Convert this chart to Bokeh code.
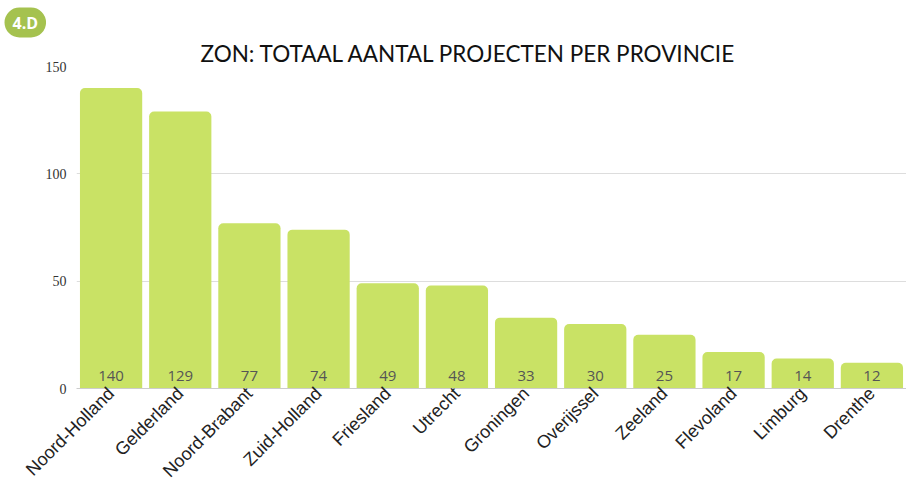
from bokeh.plotting import figure
from bokeh.models import ColumnDataSource, Range1d, FactorRange, FixedTicker, Title
from bokeh.core.properties import value
from bokeh.embed import file_html
from bokeh.resources import INLINE
import math

provinces = ["Noord-Holland", "Gelderland", "Noord-Brabant", "Zuid-Holland", "Friesland",
             "Utrecht", "Groningen", "Overijssel", "Zeeland", "Flevoland", "Limburg", "Drenthe"]
projects = [140, 129, 77, 74, 49, 48, 33, 30, 25, 17, 14, 12]
y_ticks = [0, 50, 100, 150]

title_text = "ZON: TOTAAL  AANTAL PROJECTEN PER PROVINCIE"
badge_text = "4.D"

src = ColumnDataSource(dict(x=provinces, y=projects, lbl=[str(v) for v in projects]))

p = figure(width=906, height=496, x_range=FactorRange(*provinces, range_padding=0),
           y_range=Range1d(0, 150), output_backend="svg", toolbar_location=None,
           min_border_left=76, min_border_right=0, min_border_top=66, min_border_bottom=108)
p.outline_line_color = None

try:
    badge = Title(text=badge_text, align="left", offset=-72, standoff=0,
                  text_font="Open Sans", text_font_size="16px", text_font_style="bold",
                  text_color="white", background_fill_color="#a5c24f",
                  padding=(8, 4), border_radius=18)
    badge_ok = True
except Exception:
    badge_ok = False

if badge_ok:
    p.title = badge
    main_title = Title(text=title_text, align="left", offset=124, standoff=0,
                       text_font="Lato", text_font_size="22.5px", text_font_style="normal",
                       text_color="#111111")
    p.add_layout(main_title, "above")
else:
    p.title.text = title_text
    p.title.align = "left"
    p.title.offset = 124
    p.title.text_font = "Lato"
    p.title.text_font_size = "22.5px"
    p.title.text_font_style = "normal"
    p.title.text_color = "#111111"

p.vbar(x="x", top="y", width=0.9, source=src, fill_color="#c9e265", line_color=None,
       border_radius=(5, 5, 0, 0))

p.text(x="x", y=0, text="lbl", source=src, text_align="center", text_baseline="middle",
       y_offset=-13, text_font=value("Open Sans"), text_font_size="15px", text_color="#555555")

p.yaxis.ticker = FixedTicker(ticks=y_ticks)
p.yaxis.axis_line_color = None
p.yaxis.major_tick_line_color = None
p.yaxis.minor_tick_line_color = None
p.yaxis.major_label_text_font = "Liberation Serif"
p.yaxis.major_label_text_font_size = "14px"
p.yaxis.major_label_text_color = "#333333"
p.yaxis.major_label_standoff = 4

p.xaxis.axis_line_color = "#cccccc"
p.xaxis.major_tick_line_color = None
p.xaxis.minor_tick_line_color = None
p.xaxis.major_tick_out = 0
p.xaxis.major_tick_in = 0
p.xaxis.major_label_orientation = math.pi / 4
p.xaxis.major_label_text_font = "Liberation Sans"
p.xaxis.major_label_text_font_size = "18px"
p.xaxis.major_label_text_color = "#222222"
p.xaxis.major_label_standoff = 2

p.xgrid.grid_line_color = None
p.ygrid.grid_line_color = "#dddddd"
p.ygrid.ticker = FixedTicker(ticks=y_ticks)

open("out.html", "w").write(file_html(p, INLINE))
